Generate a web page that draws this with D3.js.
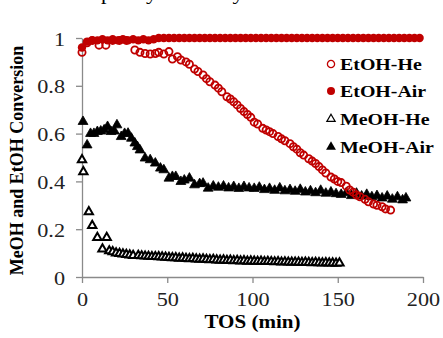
<!DOCTYPE html>
<html>
<head>
<meta charset="utf-8">
<script src="https://cdn.jsdelivr.net/npm/d3@7"></script>
<style>
  html, body { margin: 0; padding: 0; background: #fff; }
  svg { display: block; }
</style>
</head>
<body>
<div id="chart"></div>
<script>
// EtOH-He (open red circles)
const tosEtHe = [0, 3, 6, 10, 14, 18, 22, 26, 31, 34, 37, 40, 43, 45, 48, 51, 53, 56, 58, 61, 63, 66, 68, 71, 73, 75, 78, 80, 82, 85, 87, 89, 91, 93, 95, 97, 99, 101, 103, 106, 108, 110, 112, 115, 117, 119, 122, 124, 126, 128, 130, 133, 135, 137, 139, 141, 143, 146, 148, 150, 152, 155, 157, 159, 161, 163, 166, 168, 171, 173, 176, 178, 181];
const convEtHe = [0.94, 0.98, 0.99, 0.97, 0.97, 0.99, 0.99, 0.99, 0.95, 0.94, 0.935, 0.933, 0.935, 0.94, 0.933, 0.943, 0.912, 0.922, 0.908, 0.9, 0.89, 0.87, 0.86, 0.845, 0.83, 0.817, 0.803, 0.79, 0.775, 0.754, 0.745, 0.733, 0.72, 0.705, 0.692, 0.68, 0.668, 0.648, 0.64, 0.622, 0.615, 0.608, 0.6, 0.588, 0.578, 0.57, 0.558, 0.545, 0.535, 0.52, 0.51, 0.495, 0.485, 0.475, 0.462, 0.448, 0.435, 0.418, 0.41, 0.4, 0.395, 0.38, 0.364, 0.355, 0.343, 0.336, 0.325, 0.315, 0.305, 0.3, 0.294, 0.285, 0.28];

// EtOH-Air (filled red circles)
const tosEtAir = [0, 3, 6, 9, 12, 15, 18, 21, 24, 27, 30, 33, 36, 39, 42, 45, 48, 51, 54, 57, 60, 63, 66, 69, 72, 75, 78, 81, 84, 87, 90, 93, 96, 99, 102, 105, 108, 111, 114, 117, 120, 123, 126, 129, 132, 135, 138, 141, 144, 147, 150, 153, 156, 159, 162, 165, 168, 171, 174, 177, 180, 183, 186, 189, 192, 195, 198];
const convEtAir = [0.96, 0.985, 0.99, 0.99, 0.995, 0.99, 0.995, 0.99, 0.995, 0.99, 0.995, 0.99, 0.995, 0.99, 0.995, 1, 1, 1, 1, 1, 1, 1, 1, 1, 1, 1, 1, 1, 1, 1, 1, 1, 1, 1, 1, 1, 1, 1, 1, 1, 1, 1, 1, 1, 1, 1, 1, 1, 1, 1, 1, 1, 1, 1, 1, 1, 1, 1, 1, 1, 1, 1, 1, 1, 1, 1, 1];

// MeOH-He (open black triangles)
const tosMeHe = [0, 0.8, 4, 6, 9, 12, 14.5, 16, 18, 20, 22, 24, 26, 28, 30, 33, 35, 37, 39, 41, 43, 45, 47, 49, 51, 53, 55, 57, 59, 61, 63, 65, 67, 69, 71, 73, 75, 77, 79, 81, 83, 85, 87, 89, 91, 93, 95, 97, 99, 101, 103, 105, 107, 109, 111, 113, 115, 117, 119, 121, 123, 125, 127, 129, 131, 133, 135, 137, 139, 141, 143, 145, 147, 149, 151];
const convMeHe = [0.49, 0.44, 0.273, 0.215, 0.165, 0.117, 0.165, 0.109, 0.105, 0.1, 0.098, 0.096, 0.094, 0.092, 0.09, 0.09, 0.088, 0.087, 0.086, 0.085, 0.085, 0.084, 0.083, 0.082, 0.081, 0.08, 0.08, 0.078, 0.079, 0.077, 0.076, 0.077, 0.075, 0.074, 0.075, 0.073, 0.072, 0.073, 0.071, 0.07, 0.071, 0.069, 0.07, 0.068, 0.069, 0.067, 0.068, 0.066, 0.067, 0.066, 0.065, 0.066, 0.064, 0.065, 0.064, 0.063, 0.064, 0.062, 0.063, 0.062, 0.061, 0.062, 0.061, 0.06, 0.061, 0.06, 0.059, 0.06, 0.059, 0.058, 0.059, 0.058, 0.058, 0.057, 0.058];

// MeOH-Air (filled black triangles)
const tosMeAir = [0.6, 3, 5, 7, 9, 11, 13, 15, 17, 19, 20.5, 23, 25, 27, 29, 31, 32.5, 34, 37, 40, 43, 46, 48, 51, 53, 55, 58, 60, 63, 66, 69, 71, 74, 77, 80, 83, 86, 89, 92, 95, 98, 101, 104, 107, 110, 113, 116, 119, 122, 125, 128, 131, 134, 137, 140, 143, 146, 149, 152, 155, 158, 161, 164, 167, 170, 173, 176, 179, 182, 185, 188, 190];
const convMeAir = [0.65, 0.552, 0.6, 0.6, 0.608, 0.61, 0.615, 0.629, 0.608, 0.61, 0.636, 0.587, 0.6, 0.601, 0.58, 0.56, 0.545, 0.531, 0.497, 0.49, 0.476, 0.455, 0.448, 0.413, 0.42, 0.42, 0.399, 0.405, 0.413, 0.385, 0.39, 0.392, 0.371, 0.38, 0.375, 0.38, 0.372, 0.378, 0.37, 0.378, 0.372, 0.37, 0.375, 0.365, 0.37, 0.362, 0.372, 0.36, 0.365, 0.358, 0.366, 0.355, 0.36, 0.352, 0.362, 0.35, 0.355, 0.348, 0.345, 0.352, 0.34, 0.35, 0.338, 0.345, 0.335, 0.34, 0.33, 0.338, 0.325, 0.335, 0.322, 0.33];

const xTicks = [0, 50, 100, 150, 200];
const yTicks = [0, 0.2, 0.4, 0.6, 0.8, 1];
const yTickLabels = ['0', '0.2', '0.4', '0.6', '0.8', '1'];
const legendLabels = ['EtOH-He', 'EtOH-Air', 'MeOH-He', 'MeOH-Air'];

const W = 443, H = 338;
const red = '#c00000';
const axisGray = '#8a8a8a';
const serif = "'Liberation Serif', 'DejaVu Serif', serif";
const stretch = 1.17; // source glyphs are a bit wider than Times

const svg = d3.select('#chart').append('svg')
  .attr('width', W)
  .attr('height', H)
  .style('font-family', serif);

const x = d3.scaleLinear().domain([0, 200]).range([82, 423]);
const y = d3.scaleLinear().domain([0, 1]).range([277, 38]);

// cut-off line of body text above the figure, only descenders show
svg.append('text')
  .attr('transform', `translate(101,0) scale(${stretch},1)`)
  .style('font-family', serif)
  .style('font-size', '19px')
  .text('put by the study');

// axes
const xAxis = svg.append('g')
  .attr('transform', `translate(0,${y(0)})`)
  .call(d3.axisBottom(x).tickValues(xTicks).tickSize(6).tickSizeOuter(0));

const yAxis = svg.append('g')
  .attr('transform', `translate(${x(0)},0)`)
  .call(d3.axisLeft(y).tickValues(yTicks).tickSize(6).tickSizeOuter(0)
    .tickFormat((d, i) => yTickLabels[i]));

[xAxis, yAxis].forEach(g => {
  g.attr('font-family', null).attr('font-size', null);
  g.select('.domain').attr('stroke', axisGray).attr('stroke-width', 1.3);
  g.selectAll('.tick line').attr('stroke', axisGray).attr('stroke-width', 1.3);
});

xAxis.selectAll('.tick text')
  .attr('x', null).attr('y', null).attr('dy', null)
  .attr('transform', `translate(0,29) scale(${stretch},1)`)
  .attr('text-anchor', 'middle')
  .attr('fill', '#222')
  .style('font-family', serif)
  .style('font-size', '19px');

yAxis.selectAll('.tick text')
  .attr('x', null).attr('dy', null)
  .attr('transform', `translate(-17,7) scale(${stretch},1)`)
  .attr('text-anchor', 'end')
  .attr('fill', '#222')
  .style('font-family', serif)
  .style('font-size', '19px');

// axis titles
svg.append('text')
  .attr('transform', `translate(${(x(0) + x(200)) / 2},328) scale(${stretch},1)`)
  .attr('text-anchor', 'middle')
  .style('font-family', serif)
  .style('font-size', '18px')
  .style('font-weight', 'bold')
  .text('TOS (min)');

svg.append('text')
  .attr('transform', `translate(23,${(y(0) + y(1)) / 2 + 3}) rotate(-90)`)
  .attr('text-anchor', 'middle')
  .style('font-family', serif)
  .style('font-size', '18px')
  .style('font-weight', 'bold')
  .text('MeOH and EtOH Conversion');

// series
const triOpen = d3.symbol().type(d3.symbolTriangle).size(30);
const triFill = d3.symbol().type(d3.symbolTriangle).size(42);

svg.append('g').selectAll('path')
  .data(tosMeHe.map((t, i) => [t, convMeHe[i]]))
  .join('path')
  .attr('d', triOpen)
  .attr('transform', d => `translate(${x(d[0])},${y(d[1])})`)
  .attr('fill', '#fff')
  .attr('stroke', '#000')
  .attr('stroke-width', 2);

svg.append('g').selectAll('path')
  .data(tosMeAir.map((t, i) => [t, convMeAir[i]]))
  .join('path')
  .attr('d', triFill)
  .attr('transform', d => `translate(${x(d[0])},${y(d[1])})`)
  .attr('fill', '#000')
  .attr('stroke', '#000')
  .attr('stroke-width', 0.8);

svg.append('g').selectAll('circle')
  .data(tosEtHe.map((t, i) => [t, convEtHe[i]]))
  .join('circle')
  .attr('cx', d => x(d[0]))
  .attr('cy', d => y(d[1]))
  .attr('r', 3.6)
  .attr('fill', 'none')
  .attr('stroke', red)
  .attr('stroke-width', 1.8);

svg.append('g').selectAll('circle')
  .data(tosEtAir.map((t, i) => [t, convEtAir[i]]))
  .join('circle')
  .attr('cx', d => x(d[0]))
  .attr('cy', d => y(d[1]))
  .attr('r', 4.2)
  .attr('fill', red);

// legend
const legend = svg.append('g');
const rowY = [64, 91, 119, 147];

legendLabels.forEach((label, i) => {
  const row = legend.append('g').attr('transform', `translate(331,${rowY[i]})`);
  if (i === 0) {
    row.append('circle').attr('r', 3.6).attr('fill', 'none').attr('stroke', red).attr('stroke-width', 1.3);
  } else if (i === 1) {
    row.append('circle').attr('r', 4).attr('fill', red);
  } else if (i === 2) {
    row.append('path').attr('d', triOpen).attr('fill', '#fff').attr('stroke', '#000').attr('stroke-width', 1.2);
  } else {
    row.append('path').attr('d', triFill).attr('fill', '#000');
  }
  row.append('text')
    .attr('transform', `translate(9,6) scale(${stretch},1)`)
    .style('font-family', serif)
    .style('font-size', '17px')
    .style('font-weight', 'bold')
    .text(label);
});
</script>
</body>
</html>
